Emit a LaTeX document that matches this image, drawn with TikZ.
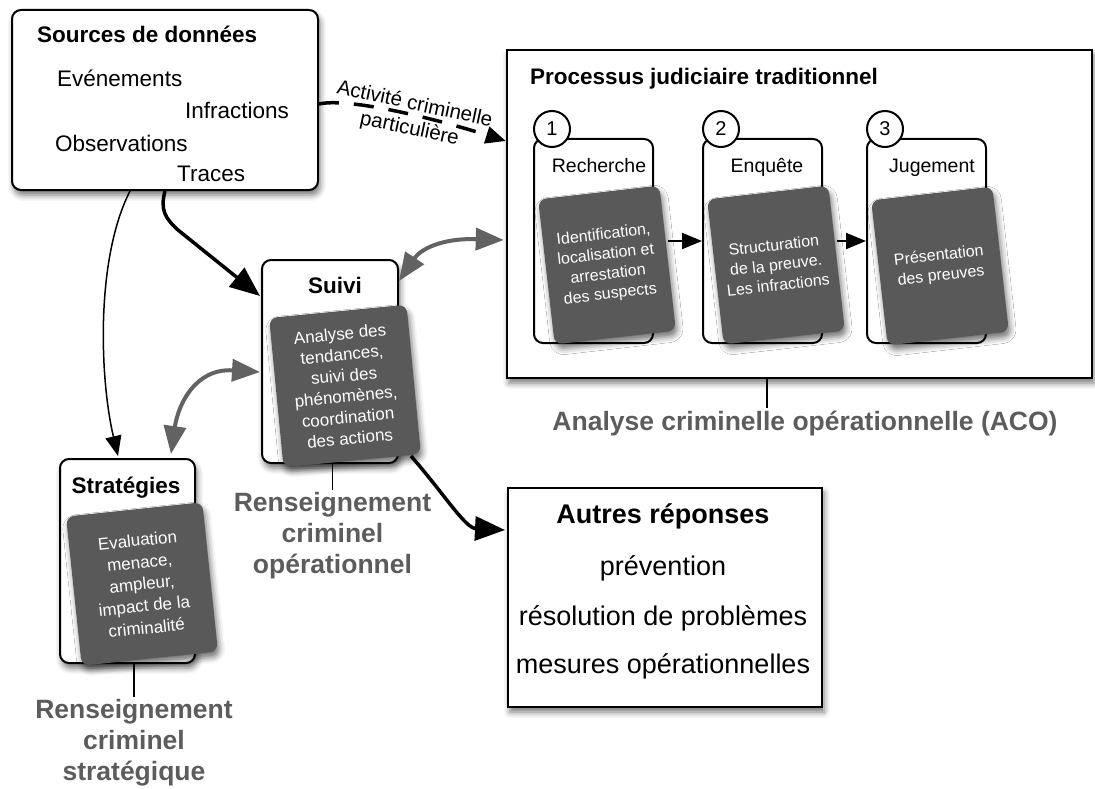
\documentclass[tikz,border=0pt]{standalone}
\usepackage{fontspec}
\setmainfont{Liberation Sans}
\usetikzlibrary{arrows.meta,shadows.blur,calc}

\definecolor{cardgray}{HTML}{595959}
\definecolor{labelgray}{HTML}{5C5C5C}
\definecolor{linkgray}{HTML}{626262}

\newcommand{\fsz}[2]{\fontsize{#1}{#2}\selectfont}

\begin{document}
\begin{tikzpicture}[x=1pt,y=-1pt,
  softshadow/.style={blur shadow={shadow xshift=2pt,shadow yshift=-5pt,shadow blur radius=6pt,shadow opacity=55}},
  wbox/.style={draw,line width=2pt,fill=white,rounded corners=9pt,softshadow,inner sep=0pt},
  subbox/.style={draw,line width=2pt,fill=white,rounded corners=9pt,inner sep=0pt,minimum width=119pt,minimum height=204pt},
  sqbox/.style={draw,line width=2.2pt,fill=white,softshadow,inner sep=0pt},
  card/.style={fill=cardgray,rounded corners=8pt,text=white,align=center,rotate=6.5,softshadow,inner sep=0pt},
  num/.style={circle,draw,line width=2pt,fill=white,minimum size=36pt,inner sep=0pt,font=\fsz{20}{24}},
  srctext/.style={anchor=base west,inner sep=0pt,font=\fsz{22.5}{27}},
  boldhead/.style={inner sep=0pt,font=\bfseries\fsz{22.5}{27}},
  subtitle/.style={anchor=base,inner sep=0pt,font=\fsz{19.5}{24}},
  bigtext/.style={anchor=base,inner sep=0pt,font=\fsz{27}{32}},
  glabel/.style={text=labelgray,font=\bfseries\fsz{26.5}{31},align=center,inner sep=2pt},
  tick/.style={line width=1.5pt},
  thinarrow/.style={line width=1.5pt,-{Triangle[length=20pt,width=16pt]}},
  steparrow/.style={line width=2pt,-{Triangle[length=20pt,width=16pt]}},
  thickarrow/.style={line width=3.5pt,-{Triangle[length=30pt,width=24pt]}},
  grayboth/.style={line width=4pt,draw=linkgray,{Triangle[length=28pt,width=22pt]}-{Triangle[length=28pt,width=22pt]}},
  dasharrow/.style={line width=3.5pt,dash pattern=on 20pt off 15pt,-{Triangle[length=20pt,width=17pt]}}
]
\useasboundingbox (0,0) rectangle (1095,789);

% ---------- data sources ----------
\node[wbox,minimum width=306pt,minimum height=180pt] (src) at (165,100) {};
\node[boldhead,anchor=base west] (srctitle) at (37,43) {Sources de données};
\node[srctext] (ev) at (57,87) {Evénements};
\node[srctext] (inf) at (185,119) {Infractions};
\node[srctext] (obs) at (55,151) {Observations};
\node[srctext] (tr) at (177,181) {Traces};

% ---------- judicial process ----------
\node[sqbox,line width=2.5pt,minimum width=585pt,minimum height=328pt] (proc) at (799.5,214) {};
\node[boldhead,anchor=base west] (proctitle) at (530,85) {Processus judiciaire traditionnel};

\node[subbox] (rech) at (593.5,241) {};
\node[subbox] (enq) at (762.5,241) {};
\node[subbox] (jug) at (926.5,241) {};
\node[num] (n1) at (552,129) {1};
\node[num] (n2) at (721,129) {2};
\node[num] (n3) at (885,129) {3};
\node[subtitle] (rechT) at (599,172) {Recherche};
\node[subtitle] (enqT) at (767,172) {Enquête};
\node[subtitle] (jugT) at (932,172) {Jugement};

\node[card,minimum width=122pt,minimum height=146pt,font=\fsz{16}{20}] (cardA) at (607,265)
  {Identification,\\localisation et\\arrestation\\des suspects};
\node[card,minimum width=122pt,minimum height=146pt,font=\fsz{16}{20}] (cardB) at (776,265)
  {Structuration\\de la preuve.\\Les infractions};
\node[card,minimum width=122pt,minimum height=146pt,font=\fsz{16}{20}] (cardC) at (940,266)
  {Présentation\\des preuves};

\draw[steparrow] (cardA.east |- enq.west) -- (enq.west);
\draw[steparrow] (cardB.east |- jug.west) -- (jug.west);

\node[glabel,anchor=base] (aco) at (805,430) {Analyse criminelle opérationnelle (ACO)};
\coordinate (acotop) at ($(proc.south)+(-32.5,0)$);
\draw[tick] (acotop) -- ($(acotop)+(0,29)$);

% ---------- monitoring ----------
\node[wbox,minimum width=136pt,minimum height=203pt] (suivi) at (330,361.5) {};
\node[boldhead,anchor=base] (suiviT) at (335,293) {Suivi};
\node[card,rotate=-1,minimum width=138pt,minimum height=150pt,font=\fsz{17}{21}] (cardS) at (345,386)
  {Analyse des\\tendances,\\suivi des\\phénomènes,\\coordination\\des actions};
\node[glabel,anchor=north] (lblO) at (332.5,490) {Renseignement\\criminel\\opérationnel};
\draw[tick] (suivi.south -| lblO.north) -- (lblO.north);

% ---------- strategies ----------
\node[wbox,minimum width=135pt,minimum height=204pt] (strat) at (127.5,561) {};
\node[boldhead,anchor=base] (stratT) at (126,493) {Stratégies};
\node[card,rotate=-0.5,minimum width=137pt,minimum height=150pt,font=\fsz{17}{22}] (cardT) at (142,584)
  {Evaluation\\menace,\\ampleur,\\impact de la\\criminalité};
\node[glabel,anchor=north] (lblS) at (134,697) {Renseignement\\criminel\\stratégique};
\draw[tick] (strat.south -| lblS.north) -- (lblS.north);

% ---------- other responses ----------
\node[sqbox,line width=2pt,minimum width=314pt,minimum height=219pt] (autres) at (665,597.5) {};
\node[bigtext,font=\bfseries\fsz{27}{32}] (autresT) at (663,523) {Autres réponses};
\node[bigtext] (prev) at (663,575) {prévention};
\node[bigtext] (resol) at (663,625) {résolution de problèmes};
\node[bigtext] (mesur) at (663,673) {mesures opérationnelles};

% ---------- connectors ----------
\draw[dasharrow] ($(src.east)+(0,4)$) .. controls (345,98) and (420,114) .. ($(proc.west)+(0,-73)$);
\node[rotate=-12,align=center,inner sep=0pt,font=\fsz{20.5}{25}] (actlbl) at (412,117)
  {Activité criminelle\\particulière};

\draw[thinarrow] ($(src.south)+(-35,0)$) .. controls (95,260) and (100,380) .. ($(strat.north)+(-9.5,-2)$);
\draw[thickarrow] (src.south) .. controls (160,210) and (165,218) .. (178,230) -- ($(suivi.north west)+(-1,37)$);
\draw[grayboth] ($(suivi.north east)+(0,22)$) .. controls (420,250) and (440,238) .. ($(proc.west)+(-2,26)$);
\draw[grayboth] ($(strat.north east)+(-25,-4)$) .. controls (178,405) and (195,368) .. ($(suivi.west)+(-1,10.5)$);
\draw[thickarrow] ($(suivi.south east)+(12,-8)$) .. controls (445,495) and (465,528) .. ($(autres.west)+(-2,-67.5)$);
\end{tikzpicture}
\end{document}
